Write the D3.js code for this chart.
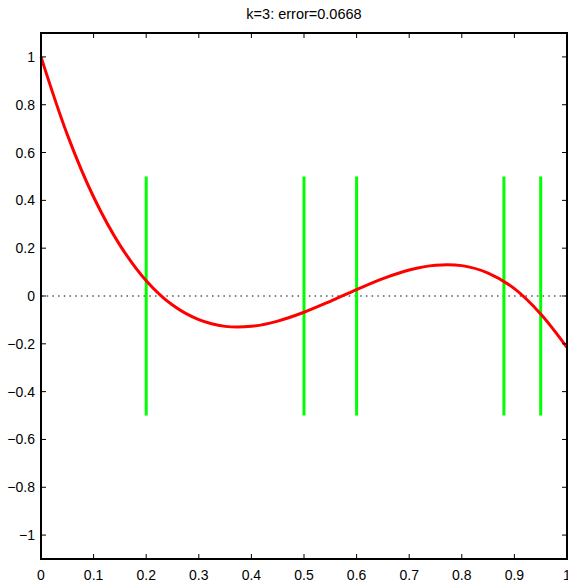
<!DOCTYPE html>
<html>
<head>
<meta charset="utf-8">
<script src="https://cdn.jsdelivr.net/npm/d3@7"></script>
<style>
  html, body { margin: 0; padding: 0; background: #fff; }
  svg text { font-family: "Liberation Sans", Arial, Helvetica, sans-serif; fill: #000; }
</style>
</head>
<body>
<svg id="chart" width="568" height="585"></svg>
<script>
// ---------- data ----------
const titleText = "k=3: error=0.0668";
const curveX = [0, 0.05, 0.1, 0.15, 0.2, 0.25, 0.3, 0.35, 0.4, 0.45, 0.5,
                0.55, 0.6, 0.65, 0.7, 0.75, 0.8, 0.85, 0.9, 0.95, 1];
const curveY = [1.0, 0.675, 0.414, 0.213, 0.064, -0.038, -0.099, -0.127, -0.127, -0.105, -0.068,
                -0.022, 0.027, 0.073, 0.109, 0.129, 0.127, 0.096, 0.031, -0.075, -0.215];
const knots = [0.2, 0.5, 0.6, 0.88, 0.95];
const knotTop = 0.5, knotBottom = -0.5;
const xTicks = [0, 0.1, 0.2, 0.3, 0.4, 0.5, 0.6, 0.7, 0.8, 0.9, 1];
const yTicks = [-1, -0.8, -0.6, -0.4, -0.2, 0, 0.2, 0.4, 0.6, 0.8, 1];

// ---------- layout ----------
const svg = d3.select("#chart");
const plotL = 41, plotR = 567, plotT = 33, plotB = 559;

const x = d3.scaleLinear().domain([0, 1]).range([plotL, plotR]);
const y = d3.scaleLinear().domain([-1.1, 1.1]).range([plotB, plotT]);

const fmt = (d) => (d < 0 ? "\u2212" : "") + String(Math.abs(d));

// zero line (dotted)
svg.append("line")
  .attr("x1", x(0)).attr("x2", x(1))
  .attr("y1", y(0)).attr("y2", y(0))
  .attr("stroke", "#000").attr("stroke-width", 1)
  .attr("stroke-dasharray", "1.5,4.2");

// knots
svg.selectAll("line.knot")
  .data(knots)
  .join("line")
  .attr("class", "knot")
  .attr("x1", (d) => x(d)).attr("x2", (d) => x(d))
  .attr("y1", y(knotTop)).attr("y2", y(knotBottom))
  .attr("stroke", "#00ff00").attr("stroke-width", 3);

// fitted curve
const pts = curveX.map((v, i) => [v, curveY[i]]);
svg.append("path")
  .datum(pts)
  .attr("fill", "none")
  .attr("stroke", "#ff0000")
  .attr("stroke-width", 3)
  .attr("stroke-linejoin", "round")
  .attr("d", d3.line().x((d) => x(d[0])).y((d) => y(d[1])).curve(d3.curveCatmullRom));

// ---------- axes (box with inward ticks) ----------
const tickLen = 5;
const axisG = svg.append("g").attr("stroke", "#000");

// bottom & top ticks
axisG.selectAll("line.xb").data(xTicks).join("line").attr("class", "xb")
  .attr("x1", (d) => x(d)).attr("x2", (d) => x(d))
  .attr("y1", plotB).attr("y2", plotB - tickLen).attr("stroke-width", 1);
axisG.selectAll("line.xt").data(xTicks).join("line").attr("class", "xt")
  .attr("x1", (d) => x(d)).attr("x2", (d) => x(d))
  .attr("y1", plotT).attr("y2", plotT + tickLen).attr("stroke-width", 1);
// left & right ticks
axisG.selectAll("line.yl").data(yTicks).join("line").attr("class", "yl")
  .attr("x1", plotL).attr("x2", plotL + tickLen)
  .attr("y1", (d) => y(d)).attr("y2", (d) => y(d)).attr("stroke-width", 1);
axisG.selectAll("line.yr").data(yTicks).join("line").attr("class", "yr")
  .attr("x1", plotR).attr("x2", plotR - tickLen)
  .attr("y1", (d) => y(d)).attr("y2", (d) => y(d)).attr("stroke-width", 1);

svg.append("rect")
  .attr("x", plotL).attr("y", plotT)
  .attr("width", plotR - plotL).attr("height", plotB - plotT)
  .attr("fill", "none").attr("stroke", "#000").attr("stroke-width", 2);

// tick labels
svg.selectAll("text.xl").data(xTicks).join("text").attr("class", "xl")
  .attr("x", (d) => x(d)).attr("y", plotB + 21)
  .attr("text-anchor", "middle").attr("font-size", 14)
  .text(fmt);
svg.selectAll("text.ylab").data(yTicks).join("text").attr("class", "ylab")
  .attr("x", plotL - 6).attr("y", (d) => y(d) + 5)
  .attr("text-anchor", "end").attr("font-size", 14)
  .text(fmt);

// title
svg.append("text")
  .attr("x", (plotL + plotR) / 2).attr("y", 19)
  .attr("text-anchor", "middle").attr("font-size", 14.5)
  .text(titleText);
</script>
</body>
</html>
